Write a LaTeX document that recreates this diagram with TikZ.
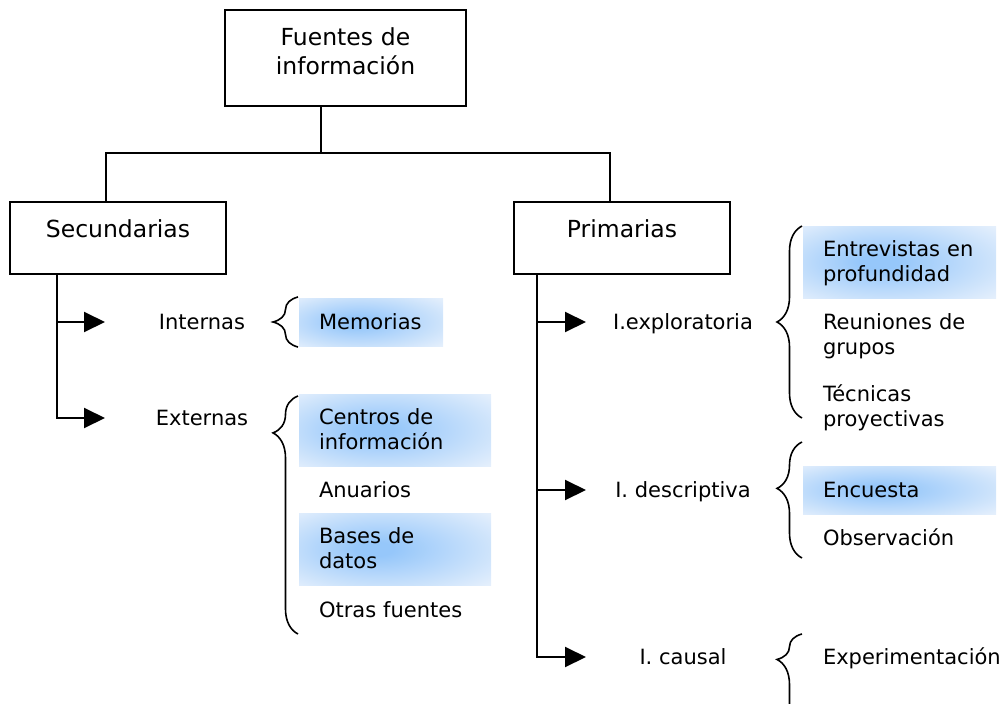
\documentclass[tikz,border=0pt]{standalone}
\usepackage{fontspec}
\setmainfont{DejaVu Sans}
\usepackage{tikz}
\usetikzlibrary{arrows.meta,calc,positioning,decorations.pathreplacing}

\definecolor{hlin}{RGB}{150,199,250}
\definecolor{hlout}{RGB}{228,239,252}
\pgfdeclareradialshading{glow}{\pgfpoint{-6bp}{0bp}}{color(0bp)=(hlin); color(5bp)=(hlin); color(36bp)=(hlout); color(50bp)=(hlout)}

\newcommand{\boxfont}{\fontsize{23.5}{29}\selectfont}
\newcommand{\leaffont}{\fontsize{21}{25}\selectfont}

\begin{document}
\begin{tikzpicture}[x=1pt,y=-1pt,>={Triangle[length=21pt,width=20pt]},line width=2pt]
	\tikzstyle{block} = [draw, rectangle, inner sep=0pt, minimum width=216pt, minimum height=72pt, text height=35pt, text depth=37pt, font=\boxfont]
	\tikzstyle{branch} = [inner sep=0pt, text height=16pt, text depth=2pt, font=\leaffont]
	\tikzstyle{leaf} = [anchor=west, inner xsep=20pt, inner ysep=0pt, text width=180pt, align=left, text height=16pt, text depth=2pt, font=\leaffont]
	\tikzstyle{twoline} = [text depth=27pt]
	\tikzstyle{glowbox} = [shading=glow, minimum height=48pt]
	\tikzstyle{curly} = [decorate, decoration={brace, amplitude=25pt}, line width=1.6pt]

	\useasboundingbox (0,0) rectangle (1004,704);

	\node [block, minimum width=241pt, minimum height=96pt, text width=241pt, align=center, text height=35pt, text depth=61pt] (fuentes) at (345.5,58) {Fuentes de\\información};
	\node [block] (sec) at (118,238) {Secundarias};
	\node [block] (pri) at (622,238) {Primarias};
	\node [coordinate] (split) at (321,153) {};

	\draw ([xshift=-24.5pt]fuentes.south) -- (split);
	\draw ([xshift=-12pt]sec.north) |- (split) -| ([xshift=-12pt]pri.north);

	\node [branch] (internas) at (202,322) {Internas};
	\node [branch] (externas) at (202,418) {Externas};
	\node [branch] (explor) at (683,322) {I.exploratoria};
	\node [branch] (descr) at (683,490) {I. descriptiva};
	\node [branch] (causal) at (683,657) {I. causal};

	\node [coordinate] (tipl) at (105,0) {};
	\node [coordinate] (tipr) at (586,0) {};
	\node [coordinate] (secfork) at ([xshift=48pt]sec.south west) {};
	\node [coordinate] (prifork) at ([xshift=24pt]pri.south west) {};

	\draw [->] (secfork) |- (internas -| tipl);
	\draw [->] (secfork) |- (externas -| tipl);
	\draw [->] (prifork) |- (explor -| tipr);
	\draw [->] (prifork) |- (descr -| tipr);
	\draw [->] (prifork) |- (causal -| tipr);

	\node [leaf, glowbox, text width=104pt] (memorias) at (298,322) {Memorias};
	\node [leaf, glowbox, twoline, text width=152pt, minimum height=72pt] (centros) at (298,430) {Centros de\\información};
	\node [leaf] (anuarios) at (298,490) {Anuarios};
	\node [leaf, glowbox, twoline, text width=152pt, minimum height=72pt] (bases) at (298,549) {Bases de\\datos};
	\node [leaf] (otras) at (298,610) {Otras fuentes};

	\node [leaf, glowbox, twoline, text width=153pt, minimum height=72pt] (entrev) at (802,262) {Entrevistas en\\profundidad};
	\node [leaf, twoline] (reun) at (802,334.5) {Reuniones de\\grupos};
	\node [leaf, twoline] (tecn) at (802,406.5) {Técnicas\\proyectivas};
	\node [leaf, glowbox, text width=153pt] (encuesta) at (802,490) {Encuesta};
	\node [leaf] (observ) at (802,538) {Observación};
	\node [leaf] (exper) at (802,657) {Experimentación};

	\draw [curly] (memorias.south west) -- (memorias.north west);
	\draw [curly, decoration={aspect=0.845}] (298,634) -- (298,396);
	\draw [curly] (802,418) -- (802,226);
	\draw [curly, decoration={aspect=0.6}] (802,558) -- (802,442);
	\draw [curly, decoration={aspect=0.76}] (802,740) -- (802,634);

\end{tikzpicture}
\end{document}
